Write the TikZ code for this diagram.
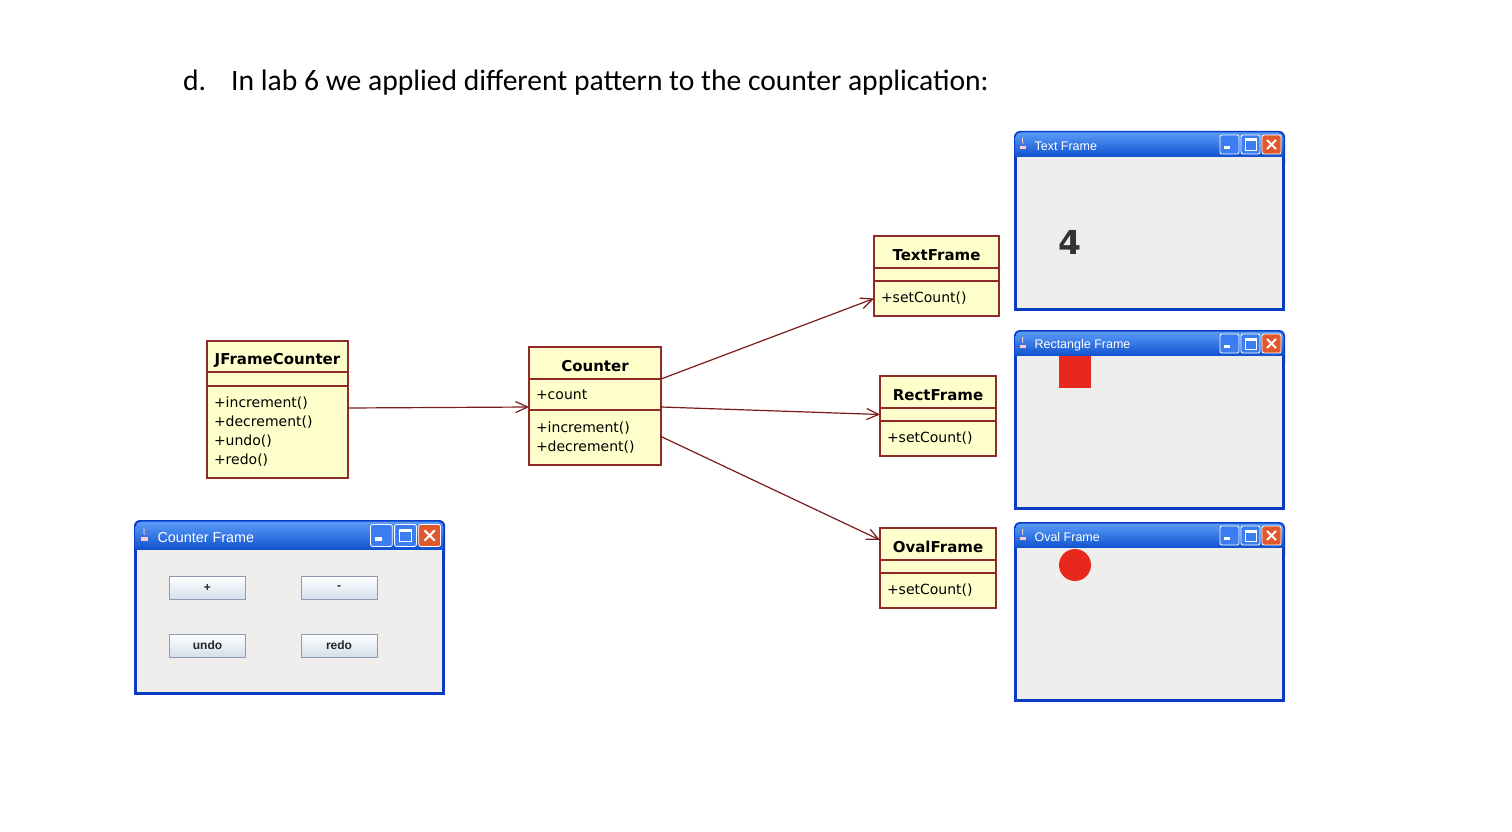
\documentclass[tikz,border=0pt]{standalone}
\usepackage{fontspec}
\setmainfont{Carlito}
\newfontfamily\umlfont{DejaVu Sans}
\newfontfamily\winfont{Liberation Sans}
\usetikzlibrary{positioning,arrows.meta}
\definecolor{umlfill}{HTML}{FFFFCC}
\definecolor{umlline}{HTML}{8E2A2A}
\definecolor{assoccol}{HTML}{7A1A1A}
\definecolor{winborder}{HTML}{0A3BC4}
\definecolor{titletop}{HTML}{5A9CF8}
\definecolor{titlemid}{HTML}{0A5CE6}
\definecolor{titlebot}{HTML}{0444C8}
\definecolor{wincontent}{HTML}{EFEEEC}
\definecolor{winbtn}{HTML}{3C7DF2}
\definecolor{wincloser}{HTML}{E0592E}
\definecolor{btnline}{HTML}{8A9BB3}
\definecolor{btnbot}{HTML}{D4DEEB}
\definecolor{shapered}{HTML}{E6281E}
\begin{document}
\begin{tikzpicture}[x=1pt, y=-1pt]
    % Styles
    \tikzstyle{uml head}=[draw=umlline, fill=umlfill, line width=1.3pt, outer sep=0pt, inner sep=0pt, text height=16pt, text depth=0pt, font=\umlfont\bfseries\fontsize{15}{18}\selectfont]
    \tikzstyle{uml part}=[draw=umlline, fill=umlfill, line width=1.3pt, outer sep=0pt, inner xsep=7pt, inner ysep=0pt, align=left, font=\umlfont\fontsize{14}{19}\selectfont]
    \tikzstyle{assoc}=[draw=assoccol, line width=1.2pt, -{Straight Barb[length=12pt,width=11pt]}]
    \tikzstyle{java button}=[draw=btnline, line width=1pt, top color=white, bottom color=btnbot, minimum width=76pt, minimum height=23pt, inner sep=0pt, font=\winfont\bfseries\fontsize{12}{14}\selectfont, text=black!85]

    \useasboundingbox (0,0) rectangle (1512,832);

    % --- Heading ---
    \node[anchor=base west, inner sep=0pt, font=\fontsize{29.6}{34}\selectfont] (item) at (183,91) {d.};
    \node[anchor=base west, inner sep=0pt, font=\fontsize{29.6}{34}\selectfont] (heading) at (231,91) {In lab 6 we applied different pattern to the counter application:};

    % --- Class: JFrameCounter ---
    \node[uml head, minimum width=141pt, minimum height=31pt] (jfchead) at (277.5,356.5) {JFrameCounter};
    \node[uml part, text width=127pt, minimum height=14pt, below=0pt of jfchead] (jfcattr) {};
    \node[uml part, text width=127pt, minimum height=92pt, below=0pt of jfcattr] (jfcops) {+increment()\\+decrement()\\+undo()\\+redo()};

    % --- Class: Counter ---
    \node[uml head, minimum width=132pt, minimum height=32pt] (cnthead) at (595,363) {Counter};
    \node[uml part, text width=118pt, minimum height=31pt, below=0pt of cnthead] (cntattr) {+count};
    \node[uml part, text width=118pt, minimum height=55pt, below=0pt of cntattr] (cntops) {+increment()\\+decrement()};

    % --- Class: TextFrame ---
    \node[uml head, minimum width=125pt, minimum height=32pt] (tfhead) at (936.5,252) {TextFrame};
    \node[uml part, text width=111pt, minimum height=13pt, below=0pt of tfhead] (tfattr) {};
    \node[uml part, text width=111pt, minimum height=35pt, below=0pt of tfattr] (tfops) {+setCount()};

    % --- Class: RectFrame ---
    \node[uml head, minimum width=116pt, minimum height=32pt] (rfhead) at (938,392) {RectFrame};
    \node[uml part, text width=102pt, minimum height=13pt, below=0pt of rfhead] (rfattr) {};
    \node[uml part, text width=102pt, minimum height=35pt, below=0pt of rfattr] (rfops) {+setCount()};

    % --- Class: OvalFrame ---
    \node[uml head, minimum width=116pt, minimum height=32pt] (ofhead) at (938,544) {OvalFrame};
    \node[uml part, text width=102pt, minimum height=13pt, below=0pt of ofhead] (ofattr) {};
    \node[uml part, text width=102pt, minimum height=35pt, below=0pt of ofattr] (ofops) {+setCount()};

    % Associations
    \draw[assoc] ([yshift=24pt]jfcops.east) -- ([yshift=3pt]cntattr.south west);
    \draw[assoc] (cnthead.south east) -- (tfops.west);
    \draw[assoc] ([yshift=3pt]cntattr.south east) -- (rfattr.west);
    \draw[assoc] ([yshift=1pt]cntops.east) -- ([yshift=4pt]ofhead.west);

    % --- Windows (the Counter Frame is the same window, scaled) ---
    \foreach \wx/\wy/\ws/\wh/\wtitle [count=\i] in {1014/131/1/180/Text Frame, 1014/330/1/180/Rectangle Frame, 1014/522/1/180/Oval Frame, 134/520/1.148/152.4/Counter Frame}{
        \begin{scope}[shift={(\wx,\wy)}, scale=\ws]
            \fill[winborder, rounded corners=6pt] (0,0) rectangle (271,40);
            \fill[winborder] (0,20) rectangle (271,\wh);
            \shade[top color=titletop, middle color=titlemid, bottom color=titlebot, rounded corners=5pt] (1.5,1.5) rectangle (269.5,30);
            \fill[wincontent] (3,26) rectangle (268,\wh-3);
            % minimise, maximise, close
            \filldraw[fill=winbtn, draw=white, line width=0.8pt, rounded corners=2pt] (206,4) rectangle (225,23);
            \fill[white] (210,15) rectangle (216,18);
            \filldraw[fill=winbtn, draw=white, line width=0.8pt, rounded corners=2pt] (227,4) rectangle (246,23);
            \draw[white, line width=1pt] (231,8) rectangle (242,19);
            \fill[white] (231,8) rectangle (242,10.5);
            \filldraw[fill=wincloser, draw=white, line width=0.8pt, rounded corners=2pt] (248,4) rectangle (267,23);
            \draw[white, line width=2pt] (253,9) -- (262,18) (262,9) -- (253,18);
            % java icon
            \fill[white!80!red] (6,15) rectangle (12,18);
            \draw[white!80!red, line width=0.8pt] (9,13) .. controls (7,11) and (10,10) .. (8.5,7);
            \node[anchor=west, text=white, transform shape, font=\winfont\fontsize{12.5}{14}\selectfont] (wintitle\i) at (17,15) {\wtitle};
        \end{scope}
    }

    % Window contents
    \node[font=\umlfont\bfseries\fontsize{33}{36}\selectfont, text=black!80] (countval) at (1070,242) {4};
    \node[fill=shapered, minimum size=32pt, inner sep=0pt] (rectshape) at (1075,372) {};
    \node[circle, fill=shapered, minimum size=32pt, inner sep=0pt] (ovalshape) at (1075,565) {};

    \node[java button] (btnplus) at (207.5,588) {+};
    \node[java button] (btnminus) at (339,588) {-};
    \node[java button] (btnundo) at (207.5,645.5) {undo};
    \node[java button] (btnredo) at (339,645.5) {redo};

\end{tikzpicture}
\end{document}
